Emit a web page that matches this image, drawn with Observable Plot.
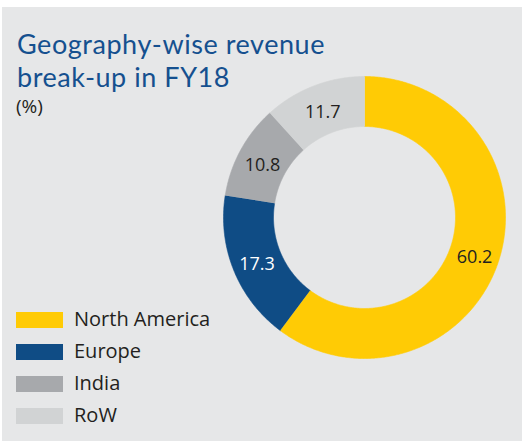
<!DOCTYPE html>
<html>
<head>
<meta charset="utf-8">
<script src="https://cdn.jsdelivr.net/npm/d3@7"></script>
<script src="https://cdn.jsdelivr.net/npm/@observablehq/plot@0.6"></script>
<style>
  html, body { margin: 0; padding: 0; background: #ffffff; }
  #panel { position: absolute; left: 2px; top: 7px; width: 520px; height: 434px; background: #e6e7e8; font-family: "Open Sans", sans-serif; overflow: hidden; }
  .tl { position: absolute; left: 15px; font-family: Lato, "Open Sans", sans-serif; font-size: 27px; letter-spacing: 0.55px; line-height: normal; color: #15508f; white-space: nowrap; }
  #unit { position: absolute; left: 14px; top: 87.5px; font-size: 19px; line-height: 22px; color: #231f20; }
  #chart { position: absolute; left: 214px; top: 61.7px; }
  #legend { position: absolute; left: 14px; top: 297px; }
  .row { display: flex; align-items: center; height: 32px; }
  .sw { width: 47px; height: 16px; margin-right: 11px; }
  .lab { font-size: 20px; color: #231f20; line-height: 22px; position: relative; top: -1px; }
</style>
</head>
<body>
<div id="panel">
  <div class="tl" style="top:19.7px">Geography-wise revenue</div>
  <div class="tl" style="top:52.5px">break-up in FY18</div>
  <div id="unit">(%)</div>
  <div id="chart"></div>
  <div id="legend"></div>
</div>
<script>
const regions = ["North America", "Europe", "India", "RoW"];
const shares = [60.2, 17.3, 10.8, 11.7];
const labels = ["60.2", "17.3", "10.8", "11.7"];
const colors = ["#ffcb05", "#0f4c85", "#a7a9ac", "#d1d3d4"];
const labelColors = ["#231f20", "#ffffff", "#231f20", "#231f20"];

const SIZE = 296, OUTER = 141, INNER = 91, MIDR = 116;
const data = regions.map((r, i) => ({region: r, value: shares[i], label: labels[i], lc: labelColors[i]}));
const arcs = d3.pie().value(d => d.value).sort(null)(data);

// polygon points for each slice (angle measured clockwise from 12 o'clock)
const pts = [];
for (const a of arcs) {
  const n = Math.max(2, Math.ceil((a.endAngle - a.startAngle) / 0.01));
  for (let k = 0; k <= n; k++) {
    const t = a.startAngle + (a.endAngle - a.startAngle) * k / n;
    pts.push({region: a.data.region, x: OUTER * Math.sin(t), y: OUTER * Math.cos(t)});
  }
  for (let k = n; k >= 0; k--) {
    const t = a.startAngle + (a.endAngle - a.startAngle) * k / n;
    pts.push({region: a.data.region, x: INNER * Math.sin(t), y: INNER * Math.cos(t)});
  }
}
const labelPts = arcs.map(a => {
  const m = (a.startAngle + a.endAngle) / 2;
  return {label: a.data.label, lc: a.data.lc, x: MIDR * Math.sin(m), y: MIDR * Math.cos(m)};
});

const plot = Plot.plot({
  width: SIZE, height: SIZE, margin: 0,
  style: {background: "transparent", fontFamily: "Open Sans, sans-serif"},
  x: {domain: [-SIZE / 2, SIZE / 2], axis: null},
  y: {domain: [-SIZE / 2, SIZE / 2], axis: null},
  color: {domain: regions, range: colors},
  marks: [
    Plot.line(pts, {x: "x", y: "y", z: "region", fill: "region", stroke: "region", strokeWidth: 0.6, curve: "linear"}),
    Plot.text(labelPts, {x: "x", y: "y", text: "label", fill: d => d.lc, fontSize: 18, dy: 3})
  ]
});
document.getElementById("chart").appendChild(plot);

const legend = document.getElementById("legend");
regions.forEach((r, i) => {
  const row = document.createElement("div");
  row.className = "row";
  const sw = document.createElement("div");
  sw.className = "sw";
  sw.style.background = colors[i];
  const lab = document.createElement("div");
  lab.className = "lab";
  lab.textContent = r;
  row.appendChild(sw); row.appendChild(lab);
  legend.appendChild(row);
});
</script>
</body>
</html>
